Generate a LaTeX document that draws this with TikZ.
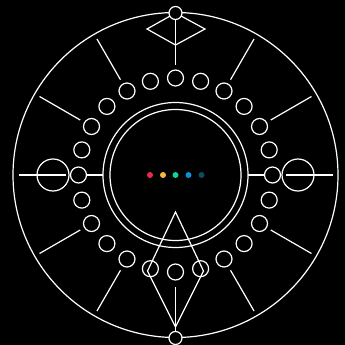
\documentclass[tikz,border=0pt]{standalone}
\usetikzlibrary{calc}
\definecolor{dotA}{HTML}{F0284A}
\definecolor{dotB}{HTML}{F6B93B}
\definecolor{dotC}{HTML}{10D39A}
\definecolor{dotD}{HTML}{0E8FCF}
\definecolor{dotE}{HTML}{0E4A60}
\begin{document}
\begin{tikzpicture}[x=1pt,y=-1pt,
  ln/.style={draw=white, line width=1.2pt},
  ring/.style={circle, draw=white, line width=1.2pt, inner sep=0pt},
  ringdot/.style={ring, minimum size=16pt},
  capdot/.style={ring, fill=black, minimum size=13pt},
  bigdot/.style={ring, minimum size=32pt},
  cdot/.style={circle, inner sep=0pt, minimum size=6pt}]
\fill[black] (0,0) rectangle (345,345);
\useasboundingbox (0,0) rectangle (345,345);
\coordinate (c) at (175.5,175);
% main circles
\node[ring, minimum size=325pt] (outer) at (c) {};
\node[ring, minimum size=145pt] (ringA) at (c) {};
\node[ring, minimum size=131pt] (ringB) at (c) {};
% spokes
\foreach \a in {30,60,120,150,210,240,300,330}{
  \coordinate (si\a) at ($(c)+({110*sin(\a)},{-110*cos(\a)})$);
  \coordinate (so\a) at ($(c)+({157*sin(\a)},{-157*cos(\a)})$);
  \draw[ln] (si\a) -- (so\a);
}
% horizontal arms
\foreach \a in {90,270}{
  \coordinate (hi\a) at ($(c)+({72.5*sin(\a)},0)$);
  \coordinate (hm\a) at ($(c)+({89*sin(\a)},0)$);
  \coordinate (ho\a) at ($(c)+({110*sin(\a)},0)$);
  \coordinate (he\a) at ($(c)+({157*sin(\a)},0)$);
  \draw[ln] (hi\a) -- (hm\a);
  \draw[ln] (ho\a) -- (he\a);
  \node[bigdot] (big\a) at ($(c)+({122.5*sin(\a)},0)$) {};
}
% ring of small circles
\foreach \i in {0,...,23}{
  \pgfmathsetmacro{\ang}{15*\i}
  \node[ringdot] (r\i) at ($(c)+({97*sin(\ang)},{-97*cos(\ang)})$) {};
}
% top ornament
\coordinate (tc) at (175.5,13);
\coordinate (tl) at (147,29);
\coordinate (tb) at (175.5,45);
\coordinate (tr) at (205,29);
\coordinate (tv) at ($(c)+(0,-110)$);
\draw[ln, line join=miter] (tc) -- (tl) -- (tb) -- (tr) -- cycle;
\draw[ln] (tc) -- (tv);
\node[capdot] (top) at (tc) {};
% bottom ornament
\coordinate (ka) at (175.5,212);
\coordinate (kl) at (147.5,271);
\coordinate (kb) at (175.5,327);
\coordinate (kr) at (203.5,271);
\coordinate (kv) at (175.5,287);
\draw[ln, line join=miter] (ka) -- (kl) -- (kb) -- (kr) -- cycle;
\coordinate (bc) at (175.5,338);
\draw[ln] (kv) -- (bc);
\node[capdot] (bottom) at (bc) {};
% coloured dots
\node[cdot, fill=dotA] (d1) at (150,175) {};
\node[cdot, fill=dotB] (d2) at (163,175) {};
\node[cdot, fill=dotC] (d3) at (175.5,175) {};
\node[cdot, fill=dotD] (d4) at (188.5,175) {};
\node[cdot, fill=dotE] (d5) at (201.5,175) {};
\end{tikzpicture}
\end{document}
